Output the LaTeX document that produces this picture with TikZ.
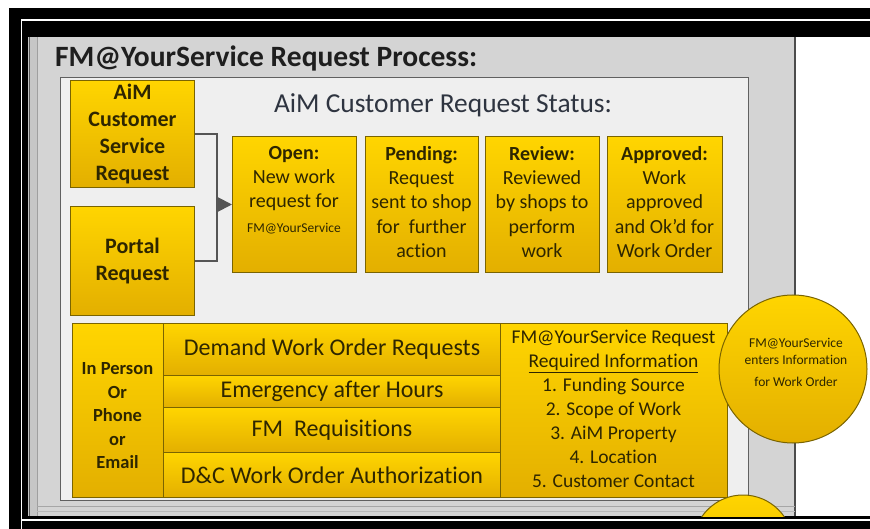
\documentclass[tikz,border=0pt]{standalone}
\usepackage{fontspec}
\setmainfont{Carlito}[Ligatures=NoCommon]
\usetikzlibrary{arrows.meta}
\definecolor{yT}{HTML}{FFD500}
\definecolor{yB}{HTML}{E3AF00}
\definecolor{yEdge}{HTML}{7A6400}
\definecolor{txt}{HTML}{2E2600}
\definecolor{panelgray}{HTML}{D4D4D4}
\definecolor{panellight}{HTML}{EFEFEF}
\definecolor{connc}{HTML}{555555}
\definecolor{titlec}{HTML}{1E1E1E}
\definecolor{statc}{HTML}{2E3440}
\begin{document}
\begin{tikzpicture}[x=1pt,y=-1pt,
  ybox/.style={draw=yEdge, line width=1pt, top color=yT, bottom color=yB,
    inner sep=0pt, anchor=north west, text=txt, align=center},
  stattext/.style={anchor=north, inner sep=0pt, text=txt, align=center,
    font=\fontsize{20}{24.3}\selectfont},
  rowtext/.style={font=\fontsize{24}{26}\selectfont}]
\useasboundingbox (0,0) rectangle (870,529);
% background and window frame
\fill[white] (0,0) rectangle (870,529);
\fill[black] (9,8) rectangle (870,529);
\fill[panelgray] (28,37) rectangle (795,516);
\fill[white] (796,37) rectangle (870,516);
\draw[white, line width=1.5pt] (21.5,529) -- (21.5,20) -- (870,20);
\draw[white, line width=1.2pt] (21.5,520) -- (870,520);
\fill[gray!45] (28,37) rectangle (37,516);
\draw[gray!70!black, line width=0.8pt] (29,37) -- (29,516);
\draw[gray!75, line width=0.8pt] (37,37) -- (37,516);
\draw[gray!60!black, line width=1.5pt] (795,37) -- (795,516);
\draw[gray!70, line width=1pt] (37,506) -- (795,506);
\draw[gray!55, line width=1pt] (37,511) -- (795,511);
% inner light panel
\filldraw[fill=panellight, draw=gray!75!black, line width=1pt] (60,78) rectangle (748,500);
% title
\node[anchor=base west, inner sep=0pt, text=titlec, font=\bfseries\fontsize{29.5}{30}\selectfont] (title) at (55,67) {FM@YourService Request Process:};
\node[anchor=base, inner sep=0pt, text=statc, font=\fontsize{27.4}{30}\selectfont] (stattitle) at (443,113) {AiM Customer Request Status:};
% request sources
\node[ybox, minimum width=124pt, minimum height=107pt, font=\bfseries\fontsize{22}{26.7}\selectfont] (aim) at (70,80) {AiM\\Customer\\Service\\Request};
\node[ybox, minimum width=124pt, minimum height=109pt, font=\bfseries\fontsize{22}{27}\selectfont] (portal) at (70,206) {Portal\\Request};
% status boxes
\node[ybox, minimum width=124pt, minimum height=136pt] (open) at (232,136) {};
\node[ybox, minimum width=113pt, minimum height=136pt] (pending) at (365,136) {};
\node[ybox, minimum width=114pt, minimum height=136pt] (review) at (485,136) {};
\node[ybox, minimum width=115pt, minimum height=136pt] (approved) at (607,136) {};
\node[stattext] (opent) at (294,146) {\textbf{Open:}\\New work\\request for\\{\fontsize{13.5}{14}\selectfont FM@YourService}};
\node[stattext] (pendingt) at (421.5,146) {\textbf{Pending:}\\Request\\sent to shop\\for\ \ further\\action};
\node[stattext] (reviewt) at (542,146) {\textbf{Review:}\\Reviewed\\by shops to\\perform\\work};
\node[stattext] (approvedt) at (664.5,146) {\textbf{Approved:}\\Work\\approved\\and Ok'd for\\Work Order};
% connector
\coordinate (jx) at (217,0);
\draw[connc, line width=2pt] (aim.east) -| (jx |- portal.east) -- (portal.east);
\draw[connc, line width=2pt, -{Triangle[length=15pt,width=15pt]}] (jx |- open.west) -- (open.west);
% bottom section
\node[ybox, minimum width=91pt, minimum height=174pt] (inperson) at (72,323) {};
\node[inner sep=0pt, text=txt, align=center, font=\bfseries\fontsize{18.5}{23.5}\selectfont] (inpersont) at (117.5,416) {In Person\\Or\\Phone\\or\\Email};
\node[ybox, minimum width=337pt, minimum height=52pt, rowtext] (demand) at (163,323) {Demand Work Order Requests};
\node[ybox, minimum width=337pt, minimum height=32pt, rowtext] (emerg) at (163,375) {Emergency after Hours};
\node[ybox, minimum width=337pt, minimum height=45pt, rowtext] (fmreq) at (163,407) {FM\ \ Requisitions};
\node[ybox, minimum width=337pt, minimum height=45pt, rowtext] (dc) at (163,452) {D\&C Work Order Authorization};
\node[ybox, minimum width=227pt, minimum height=174pt] (req) at (500,323) {};
\node[anchor=north, inner sep=0pt, text=txt, align=center, font=\fontsize{19.5}{24}\selectfont] (reqt) at (613.5,330) {FM@YourService Request\\\underline{Required Information}\\1. Funding Source\\2. Scope of Work\\3. AiM Property\\4. Location\\5. Customer Contact};
% circles
\begin{scope}
\clip (28,37) rectangle (870,516);
\node[circle, draw=yEdge, line width=1pt, top color=yT, bottom color=yB, minimum size=100pt, inner sep=0pt] (circ2) at (743,545) {};
\end{scope}
\node[circle, draw=yEdge, line width=1pt, top color=yT, bottom color=yB, minimum size=148pt, inner sep=0pt] (circ) at (793,369) {};
\node[inner sep=0pt, text=txt, align=center, font=\fontsize{13.5}{17}\selectfont] (circt) at (796,362) {FM@YourService\\enters Information\\[5pt]for Work Order};
\end{tikzpicture}
\end{document}
